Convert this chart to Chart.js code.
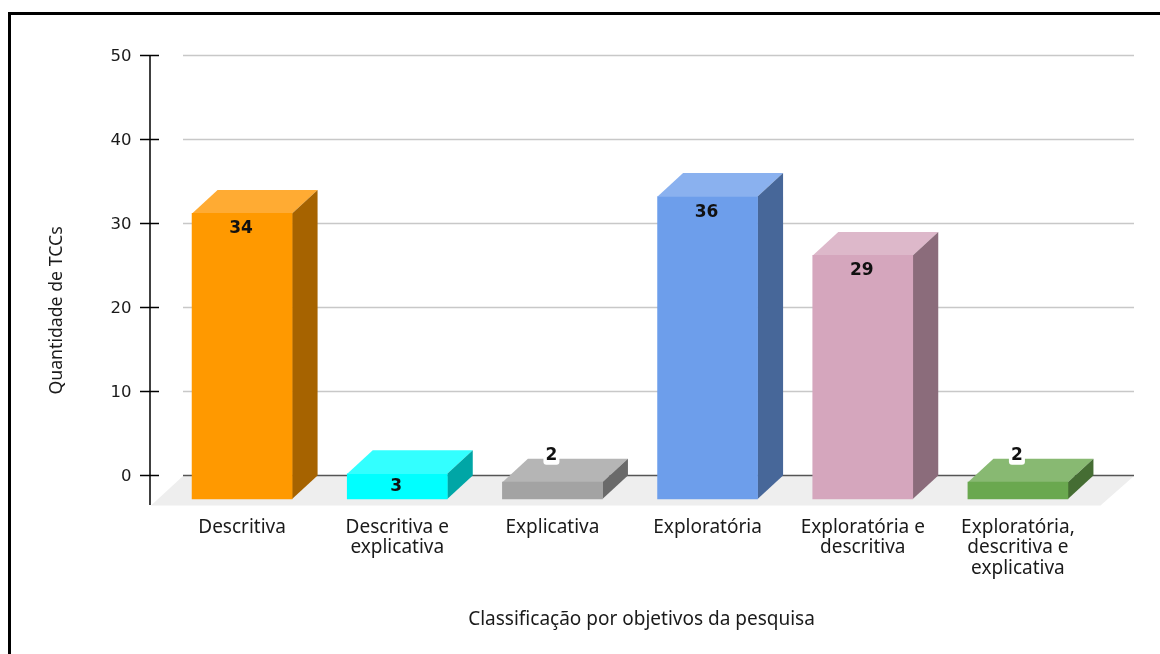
<!DOCTYPE html>
<html><head><meta charset="utf-8">
<style>
html,body{margin:0;padding:0;background:#fff;overflow:hidden}
#wrap{position:absolute;left:0;top:0;width:1160px;height:654px}
#frame{position:absolute;left:8px;top:12px;width:1160px;height:660px;border-left:3px solid #000;border-top:3px solid #000;pointer-events:none}
</style>
<script src="https://cdn.jsdelivr.net/npm/chart.js@4"></script>
</head><body>
<div id="wrap"><canvas id="c" width="1160" height="654"></canvas><div id="frame"></div></div>
<script>
const categories = ["Descritiva", ["Descritiva e","explicativa"], "Explicativa", "Exploratória", ["Exploratória e","descritiva"], ["Exploratória,","descritiva e","explicativa"]];
const values = [34, 3, 2, 36, 29, 2];
const frontColors = ["#FF9900","#00FFFF","#A3A3A3","#6D9EEB","#D5A6BD","#6AA84F"];
const topColors = ["#FFAB33","#33FFFF","#B5B5B5","#8AB1EF","#DDB8CA","#88B972"];
const sideColors = ["#A66300","#00A6A6","#6A6A6A","#476799","#8B6C7B","#456D33"];
const yTicks = [0,10,20,30,40,50];
const xTitle = "Classificação por objetivos da pesquisa";
const yTitle = "Quantidade de TCCs";

const DX = 25.5, DY = 23.5, SHIFT = 24;
const FONT = '"Noto Sans"';

function poly(ctx, pts, fill){
  ctx.beginPath();
  pts.forEach((p,i)=> i?ctx.lineTo(p[0],p[1]):ctx.moveTo(p[0],p[1]));
  ctx.closePath(); ctx.fillStyle = fill; ctx.fill();
}

const threeD = {
  id:'threeD',
  beforeDatasetsDraw(chart){
    const {ctx, chartArea:a, scales:{y}} = chart;
    const axisX = a.left - 14.5;
    const y0 = y.getPixelForValue(0);
    ctx.save();
    poly(ctx, [[axisX+1,a.bottom+0.5],[a.right+5,a.bottom+0.5],[a.right+38.5,y0+1],[a.left+18.5,y0+1]], '#EEEEEE');
    yTicks.forEach(t=>{
      const py = Math.round(y.getPixelForValue(t))+0.5;
      ctx.beginPath(); ctx.moveTo(a.left+18.5,py); ctx.lineTo(a.right+38.5,py);
      ctx.strokeStyle = t===0 ? '#555555' : '#C8C8C8';
      ctx.lineWidth = 1.5; ctx.stroke();
    });
    ctx.strokeStyle='#000'; ctx.lineWidth=1.5;
    ctx.beginPath(); ctx.moveTo(axisX,y.getPixelForValue(50)); ctx.lineTo(axisX,a.bottom); ctx.stroke();
    yTicks.forEach(t=>{
      const py = Math.round(y.getPixelForValue(t))+0.5;
      ctx.beginPath(); ctx.moveTo(axisX-10,py); ctx.lineTo(axisX+9,py); ctx.stroke();
    });
    ctx.restore();
  },
  beforeDatasetDraw(chart,args){
    const {ctx} = chart;
    const meta = args.meta;
    meta.data.forEach((el,i)=>{
      const p = el.getProps(['x','y','base','width'],true);
      const l=p.x-p.width/2, r=p.x+p.width/2, t=p.y+SHIFT, b=p.base+SHIFT;
      poly(ctx,[[l,t],[l+DX,t-DY],[r+DX,t-DY],[r,t]],topColors[i]);
      poly(ctx,[[r,t],[r+DX,t-DY],[r+DX,b-DY],[r,b]],sideColors[i]);
    });
    ctx.save();
    ctx.translate(0,SHIFT);
  },
  afterDatasetDraw(chart){ chart.ctx.restore(); },
  afterDatasetsDraw(chart){
    const {ctx} = chart;
    const meta = chart.getDatasetMeta(0);
    ctx.save();
    ctx.textAlign='center'; ctx.textBaseline='middle';
    ctx.font='bold 17px "DejaVu Sans"';
    meta.data.forEach((el,i)=>{
      const v = values[i];
      const top = el.y+SHIFT;
      let ly;
      if(v<3){
        ly = top-26.5;
        ctx.fillStyle='#fff';
        ctx.beginPath(); ctx.roundRect(el.x-9,ly-8,16,17,3); ctx.fill();
      } else {
        ly = top + (v<10?13:15.5);
      }
      ctx.fillStyle='#111';
      ctx.fillText(String(v),el.x-1,ly);
    });
    ctx.fillStyle='#1a1a1a';
    ctx.font='19px '+FONT;
    ctx.fillText(xTitle,641.5,620);
    ctx.font='17.7px '+FONT;
    ctx.translate(57,310.5); ctx.rotate(-Math.PI/2);
    ctx.fillText(yTitle,0,0);
    ctx.restore();
  }
};

new Chart(document.getElementById('c'),{
  type:'bar',
  data:{labels:categories,datasets:[{data:values,backgroundColor:frontColors,borderWidth:0,barThickness:100,clip:false}]},
  options:{
    responsive:false,animation:false,
    layout:{padding:{left:0,right:64.5,top:55,bottom:0}},
    plugins:{legend:{display:false},tooltip:{enabled:false}},
    scales:{
      x:{
        grid:{display:false,drawTicks:false},border:{display:false},
        ticks:{color:'#1a1a1a',font:{family:'Noto Sans',size:19,lineHeight:1.08},padding:12,maxRotation:0,autoSkip:false},
        afterFit(s){s.height=149;}
      },
      y:{
        min:-3.5714,max:50,
        grid:{display:false,drawTicks:false},border:{display:false},
        ticks:{color:'#1a1a1a',font:{family:'DejaVu Sans',size:16.5},padding:33,labelOffset:1.5},
        afterBuildTicks(s){s.ticks=yTicks.map(v=>({value:v}));},
        afterFit(s){s.width=164.5;}
      }
    }
  },
  plugins:[threeD]
});
</script>
</body></html>
